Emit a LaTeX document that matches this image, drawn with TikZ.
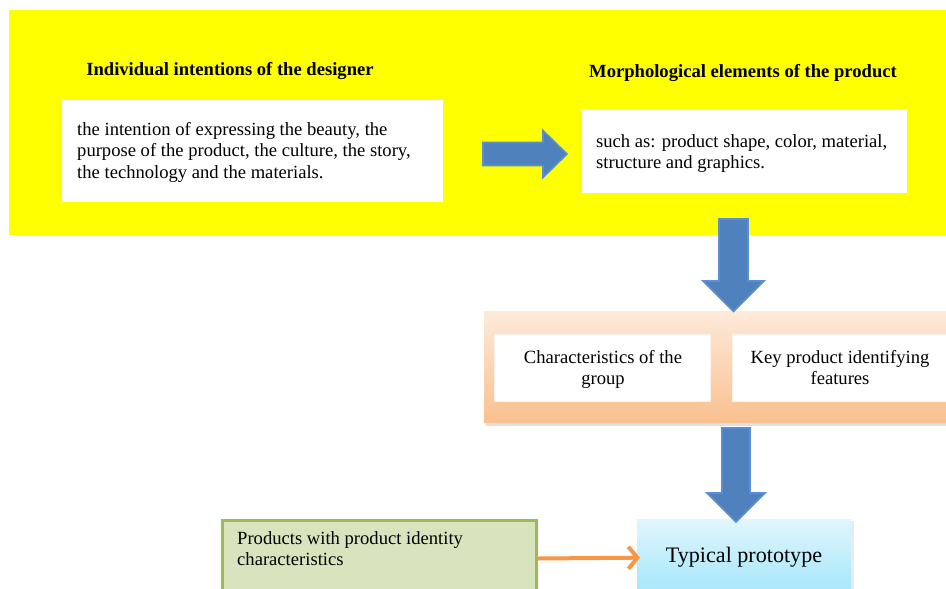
\documentclass[tikz,border=0pt]{standalone}
\usepackage{fontspec}
\setmainfont{Liberation Serif}
\usetikzlibrary{arrows.meta}

\definecolor{bandyellow}{HTML}{FFFF00}
\definecolor{arrowblue}{HTML}{4F81BD}
\definecolor{arrowedge}{HTML}{5A8FD6}
\definecolor{peachtop}{HTML}{FDEADA}
\definecolor{peachbot}{HTML}{FAC08F}
\definecolor{leafgreen}{HTML}{D7E4BD}
\definecolor{leafedge}{HTML}{9BBB59}
\definecolor{skytop}{HTML}{E0F6FD}
\definecolor{skybot}{HTML}{A3E6FA}
\definecolor{linkorange}{HTML}{F79646}

\tikzset{
  body/.style={font=\fontsize{18.6}{21.6}\selectfont, inner sep=0pt},
  headline/.style={body, font=\fontsize{18.6}{21.6}\selectfont\bfseries},
  panel/.style={fill=white, draw=none, inner sep=0pt, anchor=north west},
  softpanel/.style={fill=white, draw=peachtop!60!white, line width=0.8pt, inner sep=0pt, anchor=north west},
  blockarrow/.style={fill=arrowblue, draw=arrowedge, line width=1.6pt, line join=miter},
  linkarrow/.style={draw=linkorange, line width=4pt,
    -{Straight Barb[length=9pt,width=22pt,line width=4pt]}, shorten >=-3pt}
}

\begin{document}
\begin{tikzpicture}[x=1pt,y=-1pt]
\clip (0,0) rectangle (946,589);
\fill[white] (0,0) rectangle (946,589);

% yellow top band
\fill[bandyellow] (9,10) rectangle (950,235);

% headings
\node[headline, anchor=base] (headL) at (230,75) {Individual intentions of the designer};
\node[headline, anchor=base] (headR) at (743,77) {Morphological elements of the product};

% white content boxes in the yellow band (multi-line text is anchored on its last line)
\node[panel, minimum width=381pt, minimum height=102pt] (intent) at (62,100) {};
\node[body, anchor=base west, align=left] (intentT) at (77,178.2)
  {the intention of expressing the beauty, the\\
   purpose of the product, the culture, the story,\\
   the technology and the materials.};

\node[panel, minimum width=325pt, minimum height=84pt] (morph) at (582,109) {};
\node[body, anchor=base west, align=left] (morphT) at (596,168.6)
  {such as: product shape, color, material,\\
   structure and graphics.};

% right block arrow
\draw[blockarrow] (483,142.5) -- (543,142.5) -- (543,130.5) -- (567,154)
  -- (543,177.5) -- (543,165.5) -- (483,165.5) -- cycle;

% orange gradient band with shadow
\fill[black, opacity=0.12] (486,314) rectangle (950,426);
\shade[top color=peachtop, bottom color=peachbot] (484,311) rectangle (950,422);

\node[softpanel, minimum width=216pt, minimum height=67pt] (group) at (494,334) {};
\node[body, anchor=base, align=center] (groupT) at (603,384.6)
  {Characteristics of the\\ group};

\node[softpanel, minimum width=220pt, minimum height=67pt] (keyf) at (732,334) {};
\node[body, anchor=base, align=center] (keyfT) at (840,384.6)
  {Key product identifying\\ features};

% first down block arrow
\draw[blockarrow] (719,219) -- (748,219) -- (748,281) -- (764,281) -- (733.5,311.5)
  -- (703,281) -- (719,281) -- cycle;

% bottom row
\node[fill=leafgreen, draw=leafedge, line width=3pt, inner sep=0pt, anchor=north west,
  minimum width=314pt, minimum height=76pt] (green) at (221,519) {};
\node[body, anchor=base west, align=left] (greenT) at (237,565.6)
  {Products with product identity\\ characteristics};

\fill[black, opacity=0.08] (639,521) rectangle (854,600);
\shade[top color=skytop, bottom color=skybot] (637,519) rectangle (851,596);
\node[inner sep=0pt, anchor=north west, minimum width=214pt, minimum height=77pt] (proto) at (637,519) {};
\node[body, font=\fontsize{22.1}{26}\selectfont, anchor=base] (protoT) at (744,562) {Typical prototype};

\draw[linkarrow] (green.east) -- (proto.west);

% second down block arrow
\draw[blockarrow] (722,428) -- (750,428) -- (750,493) -- (765,493) -- (736,522)
  -- (707,493) -- (722,493) -- cycle;
\end{tikzpicture}
\end{document}
